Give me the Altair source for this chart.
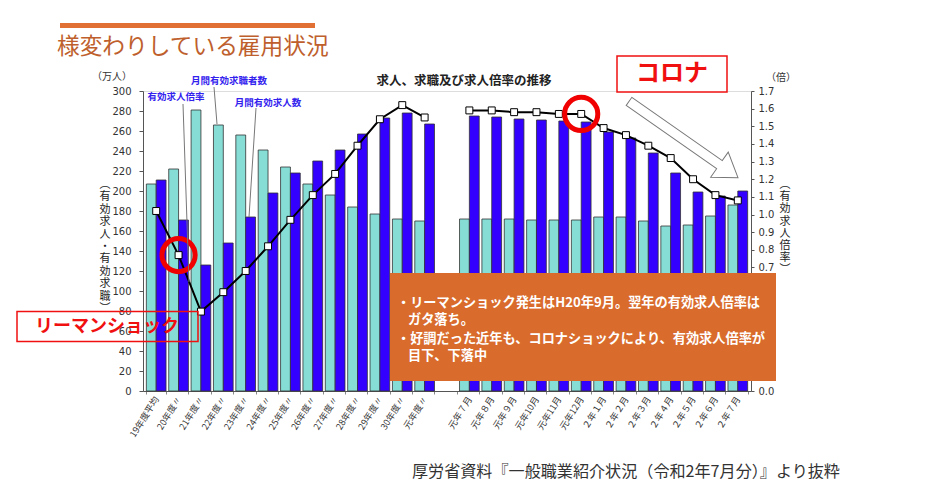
import altair as alt
import pandas as pd

# ---------------- data ----------------
cats_year = ["19年度平均", "20年度〃", "21年度〃", "22年度〃", "23年度〃", "24年度〃", "25年度〃",
             "26年度〃", "27年度〃", "28年度〃", "29年度〃", "30年度〃", "元年度〃"]
cats_month = ["元年７月", "元年８月", "元年９月", "元年10月", "元年11月", "元年12月", "２年１月",
              "２年２月", "２年３月", "２年４月", "２年５月", "２年６月", "２年７月"]
gap_label = "　"

seekers_year = [207, 222, 281, 266, 256, 241, 224, 207, 196, 184, 177, 172, 170]
seekers_month = [172, 172, 172, 171, 171, 171, 174, 174, 170, 165, 166, 175, 186]
openings_year = [211, 171, 126, 148, 174, 198, 218, 230, 241, 257, 273, 278, 267]
openings_month = [275, 274, 272, 271, 270, 269, 259, 253, 238, 218, 199, 195, 200]
ratio_year = [1.02, 0.77, 0.45, 0.56, 0.68, 0.82, 0.97, 1.11, 1.23, 1.39, 1.54, 1.62, 1.55]
ratio_month = [1.59, 1.59, 1.58, 1.58, 1.57, 1.57, 1.49, 1.45, 1.39, 1.32, 1.20, 1.11, 1.08]

left_ticks = [0, 20, 40, 60, 80, 100, 120, 140, 160, 180, 200, 220, 240, 260, 280, 300]
# 0.1–0.6 lie under the comment box in the reference, so only the visible ones are labelled
right_ticks = [0.0, 0.7, 0.8, 0.9, 1.0, 1.1, 1.2, 1.3, 1.4, 1.5, 1.6, 1.7]
circled = ["20年度〃", "元年12月"]

S1 = "月間有効求職者数"
S2 = "月間有効求人数"
S3 = "有効求人倍率"

title_text = "様変わりしている雇用状況"
chart_title = "求人、求職及び求人倍率の推移"
source_text = "厚労省資料『一般職業紹介状況（令和2年7月分）』より抜粋"
box_lines = ["・リーマンショック発生はH20年9月。翌年の有効求人倍率は",
             "ガタ落ち。",
             "・好調だった近年も、コロナショックにより、有効求人倍率が",
             "目下、下落中"]

# ---------------- tables ----------------
domain = cats_year + [gap_label] + cats_month
cats = cats_year + cats_month
bars_df = pd.DataFrame({
    "cat": cats * 2,
    "series": [S1] * len(cats) + [S2] * len(cats),
    "value": seekers_year + seekers_month + openings_year + openings_month,
})
line_df = pd.DataFrame({
    "cat": cats,
    "ratio": ratio_year + ratio_month,
    "seg": ["year"] * len(cats_year) + ["month"] * len(cats_month),
    "idx": list(range(len(cats))),
})
circ_df = line_df[line_df["cat"].isin(circled)]
ONE = pd.DataFrame({"k": [0]})

FONT = "Noto Sans CJK JP"
LIGHT = "#86DDD6"
DARK = "#3300FF"
X0, Y0 = 143, 91   # page position of the plot origin
W, H = 608, 300

# ---------------- encodings ----------------
x_enc = alt.X("cat:N", scale=alt.Scale(domain=domain, paddingInner=0.12, paddingOuter=0.15),
              axis=alt.Axis(title=None, labelAngle=-58, labelFontSize=9, labelFont=FONT,
                            labelColor="#333", tickBand="extent", tickSize=3, tickColor="#888",
                            domainColor="#555", labelPadding=3))

y_left = alt.Y("value:Q", scale=alt.Scale(domain=[0, 300], nice=False),
               axis=alt.Axis(title=None, orient="left", values=left_ticks, grid=False,
                             labelFontSize=10, labelColor="#333", tickSize=4, tickColor="#555",
                             domainColor="#555", labelPadding=8, labelFont="DejaVu Sans"))

y_right = alt.Y("ratio:Q", scale=alt.Scale(domain=[0, 1.7], nice=False),
                axis=alt.Axis(title=None, orient="right", values=right_ticks, format=".1f",
                              grid=False, labelFontSize=10, labelColor="#333", tickSize=3,
                              tickColor="#555", domainColor="#555", labelPadding=4,
                              labelFont="DejaVu Sans"))

bars = alt.Chart(bars_df).mark_bar(stroke="#333", strokeWidth=0.8).encode(
    x=x_enc,
    xOffset=alt.XOffset("series:N", scale=alt.Scale(domain=[S1, S2], paddingInner=0, paddingOuter=0)),
    y=y_left,
    color=alt.Color("series:N", scale=alt.Scale(domain=[S1, S2], range=[LIGHT, DARK]), legend=None),
)

line = alt.Chart(line_df).mark_line(color="black", strokeWidth=2).encode(
    x=x_enc, y=y_right, detail="seg:N", order="idx:Q")
pts = alt.Chart(line_df).mark_point(shape="square", filled=True, fill="white", stroke="black",
                                    strokeWidth=1, size=48, opacity=1).encode(x=x_enc, y=y_right)
circles = alt.Chart(circ_df).mark_point(shape="circle", filled=False, stroke="#F00000",
                                        strokeWidth=5, size=1100, opacity=1).encode(x=x_enc, y=y_right)
ratio_layer = alt.layer(line, pts, circles)


# ---------------- annotation helpers ----------------
def note(text, x, y, size, color="#222", weight="normal", align="left", baseline="middle", lh=None, font=FONT):
    kw = dict(font=font, fontSize=size, color=color, fontWeight=weight, align=align, baseline=baseline)
    if lh:
        kw["lineHeight"] = lh
    return alt.Chart(ONE).mark_text(**kw).encode(
        x=alt.value(x - X0), y=alt.value(y - Y0), text=alt.value(text))


def seg(x1, y1, x2, y2, color="#777", width=1.0):
    return alt.Chart(ONE).mark_rule(color=color, strokeWidth=width).encode(
        x=alt.value(x1 - X0), y=alt.value(y1 - Y0), x2=alt.value(x2 - X0), y2=alt.value(y2 - Y0))


def box(x1, y1, x2, y2, **kw):
    return alt.Chart(ONE).mark_rect(**kw).encode(
        x=alt.value(x1 - X0), y=alt.value(y1 - Y0), x2=alt.value(x2 - X0), y2=alt.value(y2 - Y0))


ARROW = "M-1,-0.074L0.66,-0.074L0.66,-0.23L1,0L0.66,0.23L0.66,0.074L-1,0.074Z"
arrow = alt.Chart(ONE).mark_point(shape=ARROW, filled=True, fill="white", stroke="#777",
                                  strokeWidth=1, size=17689, angle=35, opacity=1).encode(
    x=alt.value(683.5 - X0), y=alt.value(139.5 - Y0))

BLUE = "#3322EE"
layers = [
    bars,
    ratio_layer,
    # page header
    box(60, 23, 315, 28, color="#E07034"),
    note(title_text, 57, 47, 22.7, color="#BE5F2D"),
    note(chart_title, 464, 81, 12.5, color="#222", weight="bold", align="center"),
    note("（万人）", 112, 77, 10, color="#333", align="center"),
    note("（倍）", 781, 78, 10, color="#333", align="center"),
    note(list("︵有効求人・有効求職︶"), 105, 179, 11, color="#222", align="center", baseline="top", lh=12.4),
    note(list("︵有効求人倍率︶"), 785, 179, 11, color="#222", align="center", baseline="top", lh=12.2),
    # series labels with leader lines
    seg(183, 104, 189, 282),
    seg(214, 87, 217, 124),
    seg(256, 108, 249, 217),
    note(S3, 176, 97, 9.5, color=BLUE, weight="bold", align="center"),
    note(S1, 229, 81, 9.5, color=BLUE, weight="bold", align="center"),
    note(S2, 268, 103, 9.5, color=BLUE, weight="bold", align="center"),
    # orange comment box
    box(390, 273, 776, 381, color="#D96B2C"),
    note(box_lines[0], 397, 302.5, 13.2, color="white", weight="bold"),
    note(box_lines[1], 408, 320, 13.2, color="white", weight="bold"),
    note(box_lines[2], 397, 338.5, 13.2, color="white", weight="bold"),
    note(box_lines[3], 408, 355.5, 13.2, color="white", weight="bold"),
    # red call-outs
    box(17, 311.5, 198, 341.5, fill="transparent", stroke="#F01010", strokeWidth=1.5),
    note("リーマンショック", 107, 326.5, 18, color="#F01010", weight="bold", align="center"),
    box(617, 56, 727, 92, fill="white", stroke="#F01010", strokeWidth=1.5),
    note("コロナ", 672, 74, 24, color="#F01010", weight="bold", align="center"),
    arrow,
    # source
    note(source_text, 412, 472, 16.1, color="#333"),
]

chart = alt.layer(*layers).resolve_scale(y="independent").properties(
    width=W, height=H,
    padding={"left": X0 - 8, "top": Y0 - 8, "right": 160, "bottom": 92},
    autosize=alt.AutoSizeParams(type="none"),
).configure_view(stroke=None).configure(background="white")

chart.save("out.html", embed_options={"renderer": "svg", "actions": False})
